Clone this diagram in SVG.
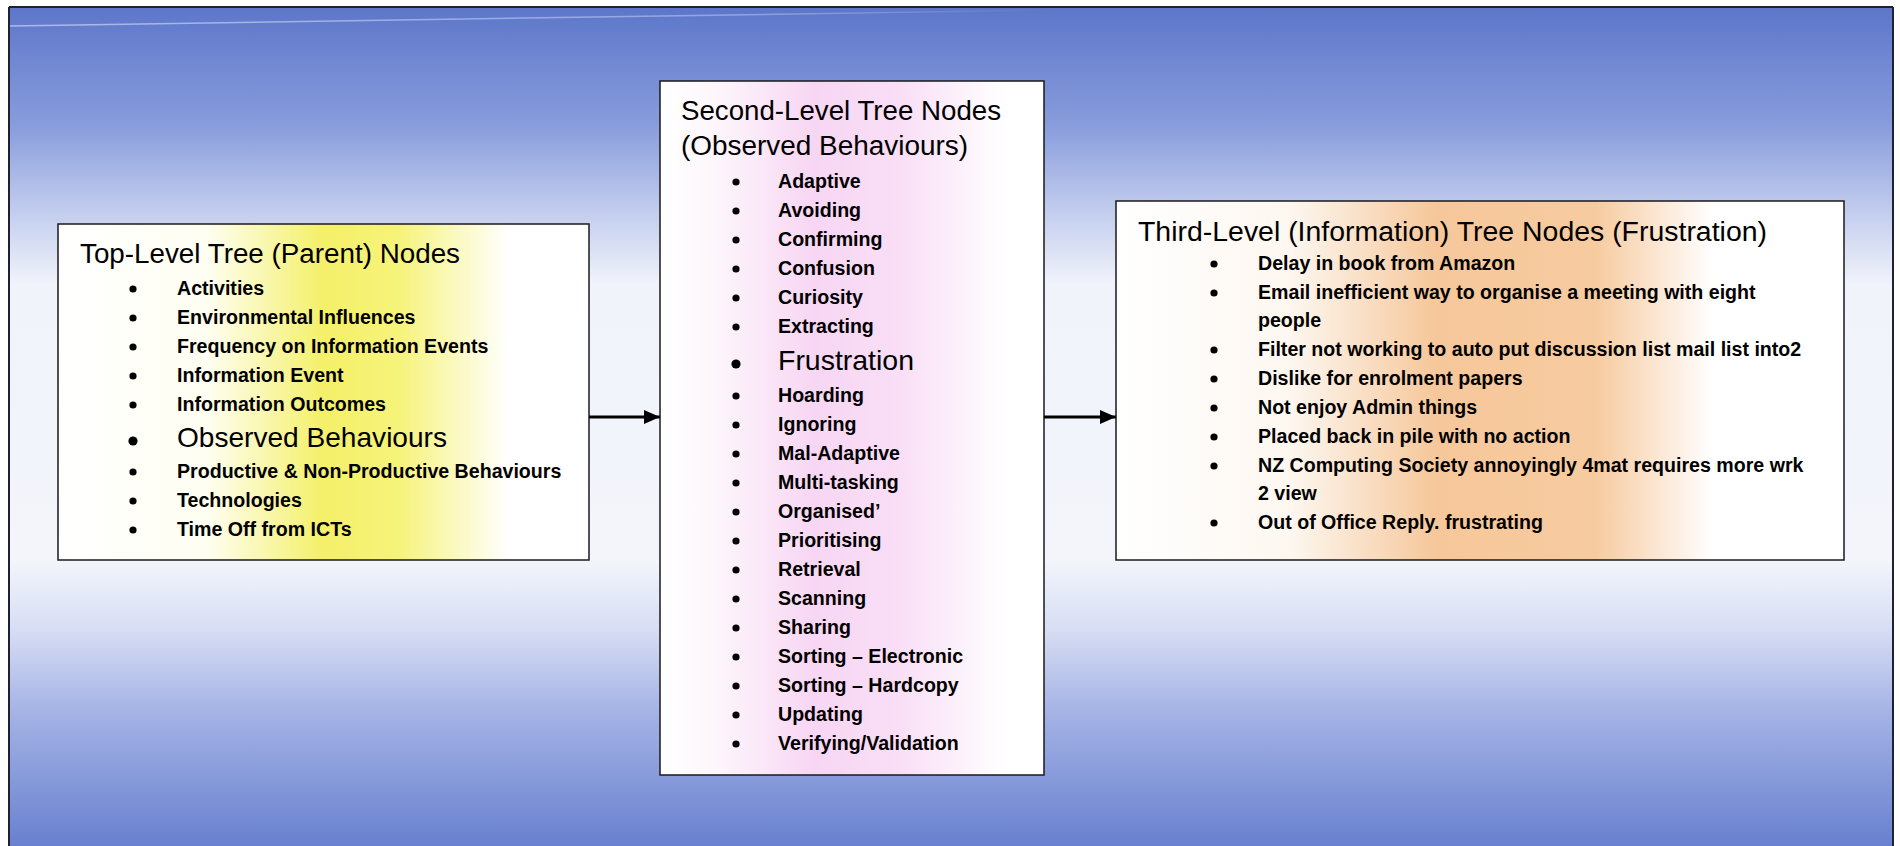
<svg xmlns="http://www.w3.org/2000/svg" width="1900" height="846" viewBox="0 0 1900 846">
<defs>
<linearGradient id="bg" gradientUnits="userSpaceOnUse" x1="0" y1="7" x2="0" y2="846">
<stop offset="0" stop-color="#5d76c9"/>
<stop offset="0.14" stop-color="#889cdc"/>
<stop offset="0.26" stop-color="#cbd4f0"/>
<stop offset="0.33" stop-color="#f1f3fb"/>
<stop offset="0.66" stop-color="#f3f5fb"/>
<stop offset="0.74" stop-color="#d8def4"/>
<stop offset="0.84" stop-color="#a5b3e5"/>
<stop offset="1" stop-color="#6880cf"/>
</linearGradient>
<linearGradient id="gYellow" x1="0" y1="0" x2="1" y2="0">
<stop offset="0" stop-color="#ffffff"/>
<stop offset="0.28" stop-color="#fefef2"/>
<stop offset="0.5" stop-color="#f4f069"/>
<stop offset="0.64" stop-color="#f6f37a"/>
<stop offset="0.85" stop-color="#ffffff"/>
<stop offset="1" stop-color="#ffffff"/>
</linearGradient>
<linearGradient id="gPink" x1="0" y1="0" x2="1" y2="0">
<stop offset="0" stop-color="#ffffff"/>
<stop offset="0.15" stop-color="#fdf6fc"/>
<stop offset="0.4" stop-color="#f7d6f3"/>
<stop offset="0.62" stop-color="#f9def6"/>
<stop offset="0.9" stop-color="#ffffff"/>
<stop offset="1" stop-color="#ffffff"/>
</linearGradient>
<linearGradient id="gOrange" x1="0" y1="0" x2="1" y2="0">
<stop offset="0" stop-color="#ffffff"/>
<stop offset="0.24" stop-color="#fdf7f0"/>
<stop offset="0.44" stop-color="#f6c79a"/>
<stop offset="0.66" stop-color="#f7cba0"/>
<stop offset="0.82" stop-color="#ffffff"/>
<stop offset="1" stop-color="#ffffff"/>
</linearGradient>
<linearGradient id="gLine" x1="0" y1="0" x2="1" y2="0">
<stop offset="0" stop-color="#b4c1ee" stop-opacity="0.9"/>
<stop offset="0.7" stop-color="#b4c1ee" stop-opacity="0.6"/>
<stop offset="1" stop-color="#b4c1ee" stop-opacity="0"/>
</linearGradient>
<marker id="arrow" markerUnits="userSpaceOnUse" markerWidth="16" markerHeight="14" refX="16" refY="7" orient="auto">
<path d="M0,0 L16,7 L0,14 Z" fill="#000"/>
</marker>
<style>
.box { stroke: #1a1a1a; stroke-width: 1.5; }
.title { font-family: "Liberation Sans", Arial, sans-serif; font-size: 27px; fill: #000; }
.item { font-family: "Liberation Sans", Arial, sans-serif; font-size: 19.6px; font-weight: bold; fill: #000; }
.big { font-family: "Liberation Sans", Arial, sans-serif; font-size: 28px; fill: #000; }
.bul { fill: #000; }
.conn { stroke: #000; stroke-width: 3; fill: none; }
</style>
</defs>

<rect x="0" y="0" width="1900" height="846" fill="#ffffff"/>
<rect x="9" y="7" width="1884" height="845" fill="url(#bg)"/>
<path d="M10,26 L1050,10" stroke="url(#gLine)" stroke-width="1.5" fill="none"/>
<path d="M9,7 L1893,7 M9,7 L9,846 M1893,7 L1893,846" stroke="#1e2230" stroke-width="2" fill="none"/>

<g id="node-top-level">
<rect class="box" x="58" y="224" width="531" height="336" fill="url(#gYellow)"/>
<text class="title" x="80" y="263" textLength="380" lengthAdjust="spacingAndGlyphs">Top-Level Tree (Parent) Nodes</text>
<g class="bul">
<circle cx="133" cy="289" r="3.6"/>
<circle cx="133" cy="318" r="3.6"/>
<circle cx="133" cy="347" r="3.6"/>
<circle cx="133" cy="376" r="3.6"/>
<circle cx="133" cy="405" r="3.6"/>
<circle cx="133" cy="441" r="4.6"/>
<circle cx="133" cy="472" r="3.6"/>
<circle cx="133" cy="501" r="3.6"/>
<circle cx="133" cy="530" r="3.6"/>
</g>
<text class="item" x="177" y="295">Activities</text>
<text class="item" x="177" y="324">Environmental Influences</text>
<text class="item" x="177" y="353">Frequency on Information Events</text>
<text class="item" x="177" y="382">Information Event</text>
<text class="item" x="177" y="411">Information Outcomes</text>
<text class="big" x="177" y="447" textLength="270" lengthAdjust="spacingAndGlyphs">Observed Behaviours</text>
<text class="item" x="177" y="478">Productive &amp; Non-Productive Behaviours</text>
<text class="item" x="177" y="507">Technologies</text>
<text class="item" x="177" y="536">Time Off from ICTs</text>
</g>

<g id="node-second-level">
<rect class="box" x="660" y="81" width="384" height="694" fill="url(#gPink)"/>
<text class="title" x="681" y="120" textLength="320" lengthAdjust="spacingAndGlyphs">Second-Level Tree Nodes</text>
<text class="title" x="681" y="155" textLength="287" lengthAdjust="spacingAndGlyphs">(Observed Behaviours)</text>
<g class="bul">
<circle cx="736" cy="182" r="3.6"/>
<circle cx="736" cy="211" r="3.6"/>
<circle cx="736" cy="240" r="3.6"/>
<circle cx="736" cy="269" r="3.6"/>
<circle cx="736" cy="298" r="3.6"/>
<circle cx="736" cy="327" r="3.6"/>
<circle cx="736" cy="364" r="4.6"/>
<circle cx="736" cy="396" r="3.6"/>
<circle cx="736" cy="425" r="3.6"/>
<circle cx="736" cy="454" r="3.6"/>
<circle cx="736" cy="483" r="3.6"/>
<circle cx="736" cy="512" r="3.6"/>
<circle cx="736" cy="541" r="3.6"/>
<circle cx="736" cy="570" r="3.6"/>
<circle cx="736" cy="599" r="3.6"/>
<circle cx="736" cy="628" r="3.6"/>
<circle cx="736" cy="657" r="3.6"/>
<circle cx="736" cy="686" r="3.6"/>
<circle cx="736" cy="715" r="3.6"/>
<circle cx="736" cy="744" r="3.6"/>
</g>
<text class="item" x="778" y="188">Adaptive</text>
<text class="item" x="778" y="217">Avoiding</text>
<text class="item" x="778" y="246">Confirming</text>
<text class="item" x="778" y="275">Confusion</text>
<text class="item" x="778" y="304">Curiosity</text>
<text class="item" x="778" y="333">Extracting</text>
<text class="big" x="778" y="370" textLength="136" lengthAdjust="spacingAndGlyphs">Frustration</text>
<text class="item" x="778" y="402">Hoarding</text>
<text class="item" x="778" y="431">Ignoring</text>
<text class="item" x="778" y="460">Mal-Adaptive</text>
<text class="item" x="778" y="489">Multi-tasking</text>
<text class="item" x="778" y="518">Organised’</text>
<text class="item" x="778" y="547">Prioritising</text>
<text class="item" x="778" y="576">Retrieval</text>
<text class="item" x="778" y="605">Scanning</text>
<text class="item" x="778" y="634">Sharing</text>
<text class="item" x="778" y="663">Sorting – Electronic</text>
<text class="item" x="778" y="692">Sorting – Hardcopy</text>
<text class="item" x="778" y="721">Updating</text>
<text class="item" x="778" y="750">Verifying/Validation</text>
</g>

<g id="node-third-level">
<rect class="box" x="1116" y="201" width="728" height="359" fill="url(#gOrange)"/>
<text class="title" x="1138" y="241" textLength="629" lengthAdjust="spacingAndGlyphs">Third-Level (Information) Tree Nodes (Frustration)</text>
<g class="bul">
<circle cx="1214" cy="264" r="3.6"/>
<circle cx="1214" cy="293" r="3.6"/>
<circle cx="1214" cy="350" r="3.6"/>
<circle cx="1214" cy="379" r="3.6"/>
<circle cx="1214" cy="408" r="3.6"/>
<circle cx="1214" cy="437" r="3.6"/>
<circle cx="1214" cy="466" r="3.6"/>
<circle cx="1214" cy="523" r="3.6"/>
</g>
<text class="item" x="1258" y="270">Delay in book from Amazon</text>
<text class="item" x="1258" y="299">Email inefficient way to organise a meeting with eight</text>
<text class="item" x="1258" y="327">people</text>
<text class="item" x="1258" y="356">Filter not working to auto put discussion list mail list into2</text>
<text class="item" x="1258" y="385">Dislike for enrolment papers</text>
<text class="item" x="1258" y="414">Not enjoy Admin things</text>
<text class="item" x="1258" y="443">Placed back in pile with no action</text>
<text class="item" x="1258" y="472">NZ Computing Society annoyingly 4mat requires more wrk</text>
<text class="item" x="1258" y="500">2 view</text>
<text class="item" x="1258" y="529">Out of Office Reply. frustrating</text>
</g>

<g id="connectors">
<line class="conn" x1="589" y1="417" x2="660" y2="417" marker-end="url(#arrow)"/>
<line class="conn" x1="1044" y1="417" x2="1116" y2="417" marker-end="url(#arrow)"/>
</g>
</svg>
